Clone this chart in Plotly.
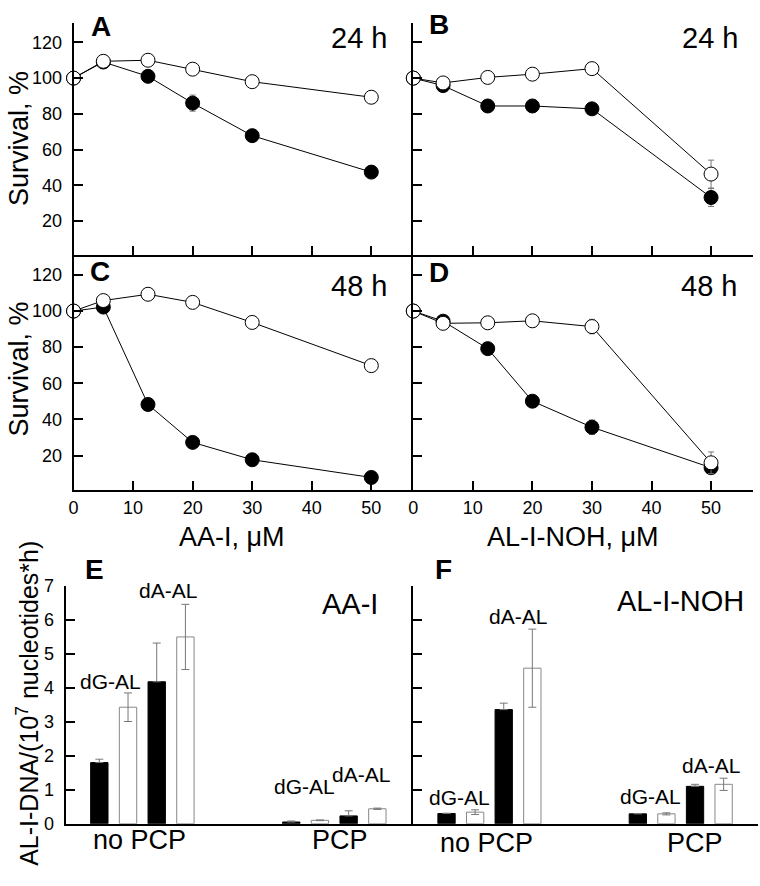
import plotly.graph_objects as go

W, H = 760, 886
FONT = "Liberation Sans, Arial, sans-serif"

# ---------------- data ----------------
conc = [0, 5, 12.5, 20, 30, 50]

# Panel A: AA-I, 24 h
a_filled = [100, 109, 101, 86, 67.8, 47.4]
a_filled_err = [0, 0, 1, 4.5, 1, 1]
a_open = [100, 109.4, 110, 105, 98, 89.3]
a_open_err = [0, 1, 1, 1, 1, 1]

# Panel B: AL-I-NOH, 24 h
b_filled = [100, 95.8, 84.4, 84.4, 82.8, 33.2]
b_filled_err = [0, 1, 1, 1, 1, 5]
b_open = [100, 97.3, 100.4, 102.2, 105.3, 46.3]
b_open_err = [0, 1, 1, 1, 1, 7.8]

# Panel C: AA-I, 48 h
c_filled = [100, 102.2, 48.3, 27.3, 17.7, 7.9]
c_filled_err = [0, 1, 1, 1, 1, 1]
c_open = [100, 105.8, 109.3, 104.8, 93.7, 69.8]
c_open_err = [0, 1, 1, 1, 1, 1]

# Panel D: AL-I-NOH, 48 h
d_filled = [100, 94.4, 79.2, 50.1, 35.7, 13.3]
d_filled_err = [0, 1, 2.5, 1, 4, 3]
d_open = [100, 93.2, 93.5, 94.6, 91.4, 16]
d_open_err = [0, 2.5, 1, 1, 4, 6]

x_ticks = [0, 10, 20, 30, 40, 50]
y_ticks = [20, 40, 60, 80, 100, 120]

# Panels E/F: adducts
groups = ["no PCP", "PCP"]
e_dg_black = [1.8, 0.05]
e_dg_black_err = [0.1, 0.03]
e_dg_white = [3.43, 0.1]
e_dg_white_err = [0.42, 0.01]
e_da_black = [4.18, 0.23]
e_da_black_err = [1.14, 0.15]
e_da_white = [5.5, 0.44]
e_da_white_err = [0.96, 0.02]

f_dg_black = [0.3, 0.29]
f_dg_black_err = [0.01, 0.01]
f_dg_white = [0.34, 0.29]
f_dg_white_err = [0.07, 0.03]
f_da_black = [3.36, 1.1]
f_da_black_err = [0.19, 0.06]
f_da_white = [4.58, 1.16]
f_da_white_err = [1.15, 0.18]

bar_ticks = [0, 1, 2, 3, 4, 5, 6, 7]

# ---------------- figure ----------------
fig = go.Figure()


def dom_x(a, b):
    return [a / W, b / W]


def dom_y(top, bottom):
    return [1 - bottom / H, 1 - top / H]


def add_pair(xa, ya, filled, ferr, opn, oerr):
    fig.add_trace(go.Scatter(
        x=conc, y=filled, mode="lines+markers", xaxis=xa, yaxis=ya,
        line=dict(color="black", width=1), cliponaxis=False,
        marker=dict(size=14, color="black", line=dict(color="black", width=1)),
        error_y=dict(type="data", array=ferr, color="#777", thickness=1, width=3),
        showlegend=False))
    fig.add_trace(go.Scatter(
        x=conc, y=opn, mode="lines+markers", xaxis=xa, yaxis=ya,
        line=dict(color="black", width=1), cliponaxis=False,
        marker=dict(size=14, color="white", line=dict(color="black", width=1)),
        error_y=dict(type="data", array=oerr, color="#777", thickness=1, width=3),
        showlegend=False))


add_pair("x", "y", a_filled, a_filled_err, a_open, a_open_err)
add_pair("x2", "y2", b_filled, b_filled_err, b_open, b_open_err)
add_pair("x3", "y3", c_filled, c_filled_err, c_open, c_open_err)
add_pair("x4", "y4", d_filled, d_filled_err, d_open, d_open_err)


def add_bars(xa, ya, series):
    for vals, errs, black in series:
        # lower whisker of filled bars is hidden inside the black bar
        err = dict(type="data", array=errs, color="#777", thickness=1, width=4)
        if black:
            err.update(symmetric=False, arrayminus=[0] * len(errs))
        fig.add_trace(go.Bar(
            x=groups, y=vals, xaxis=xa, yaxis=ya,
            marker=dict(color="black" if black else "white",
                        line=dict(color="black" if black else "#888", width=1)),
            error_y=err, showlegend=False))


add_bars("x5", "y5", [(e_dg_black, e_dg_black_err, True), (e_dg_white, e_dg_white_err, False),
                      (e_da_black, e_da_black_err, True), (e_da_white, e_da_white_err, False)])
add_bars("x6", "y6", [(f_dg_black, f_dg_black_err, True), (f_dg_white, f_dg_white_err, False),
                      (f_da_black, f_da_black_err, True), (f_da_white, f_da_white_err, False)])

common_axis = dict(showline=True, linecolor="black", linewidth=2, ticks="inside",
                   ticklen=9, tickwidth=1.5, tickcolor="black", showgrid=False,
                   zeroline=False, tickfont=dict(size=18, color="black", family=FONT))

layout = dict(
    width=W, height=H, margin=dict(l=0, r=0, t=0, b=0),
    paper_bgcolor="white", plot_bgcolor="rgba(0,0,0,0)",
    font=dict(family=FONT, color="black"),
    barmode="group", bargap=0.402, bargroupgap=0.395,
    showlegend=False,
)

# line panels
panels = [
    ("", dom_x(69, 410.7), dom_y(13, 250.7), True, False),
    ("2", dom_x(411, 752.7), dom_y(13, 250.7), False, False),
    ("3", dom_x(69, 410.7), dom_y(250.7, 491), True, True),
    ("4", dom_x(411, 752.7), dom_y(250.7, 491), False, True),
]
for suf, dx, dy, ylab, xlab in panels:
    layout["xaxis" + suf] = dict(common_axis, domain=dx, range=[0, 57],
                                 tickvals=x_ticks, showticklabels=xlab,
                                 anchor="y" + suf)
    layout["yaxis" + suf] = dict(common_axis, domain=dy, range=[1, 131],
                                 tickvals=y_ticks, showticklabels=ylab,
                                 ticklabelstandoff=6, anchor="x" + suf)

layout["xaxis5"] = dict(common_axis, domain=dom_x(61, 410.7), range=[-0.4, 1.41],
                        ticks="", showticklabels=False, anchor="y5")
layout["yaxis5"] = dict(common_axis, domain=dom_y(589.3, 832.5), range=[0, 7],
                        tickvals=bar_ticks, ticklabelstandoff=6, anchor="x5")
layout["xaxis6"] = dict(common_axis, domain=dom_x(411, 758), range=[-0.398, 1.404],
                        ticks="", showticklabels=False, anchor="y6")
layout["yaxis6"] = dict(common_axis, domain=dom_y(589.3, 832.5), range=[0, 7],
                        tickvals=bar_ticks, showticklabels=False, anchor="x6")

fig.update_layout(**layout)


def label(text, x, y, size, bold=False, angle=0):
    fig.add_annotation(
        text=("<b>%s</b>" % text) if bold else text,
        x=x / W, y=1 - y / H, xref="paper", yref="paper",
        xanchor="center", yanchor="middle", showarrow=False,
        textangle=angle, font=dict(size=size, family=FONT, color="black"))


# panel letters
for t, x, y in [("A", 96.5, 17), ("B", 436.5, 15), ("C", 96, 267.5),
                ("D", 437, 269), ("E", 90, 572), ("F", 441.5, 572)]:
    label(t, x, y, 28, bold=True)

# time labels
for t, x, y in [("24 h", 356.5, 28.5), ("24 h", 710, 28.5),
                ("48 h", 356, 282), ("48 h", 709, 282)]:
    label(t, x, y, 29)

# compound labels in bar panels
label("AA-I", 347.5, 608, 29)
label("AL-I-NOH", 679.5, 605, 29)

# axis titles
label("AA-I, μM", 228, 539, 27)
label("AL-I-NOH, μM", 571.5, 539, 27)
label("Survival, %", 14, 131, 27, angle=-90)
label("Survival, %", 14, 367, 27, angle=-90)
label("AL-I-DNA/(10<sup>7</sup> nucleotides*h)", 23, 709, 25, angle=-90)

# adduct labels
for t, x, y in [("dG-AL", 106.5, 687), ("dA-AL", 164, 594), ("dG-AL", 301, 794),
                ("dA-AL", 358, 782), ("dG-AL", 458, 806), ("dA-AL", 516.5, 620),
                ("dG-AL", 649.5, 805), ("dA-AL", 711, 773)]:
    label(t, x, y, 21)

# group labels
for t, x, y in [("no PCP", 135, 849), ("PCP", 337.5, 849),
                ("no PCP", 485, 852), ("PCP", 694.5, 852)]:
    label(t, x, y, 27)

fig.write_html("out.html", config={"displayModeBar": False},
               post_script="document.body.style.margin='0';document.body.style.overflow='hidden';")
